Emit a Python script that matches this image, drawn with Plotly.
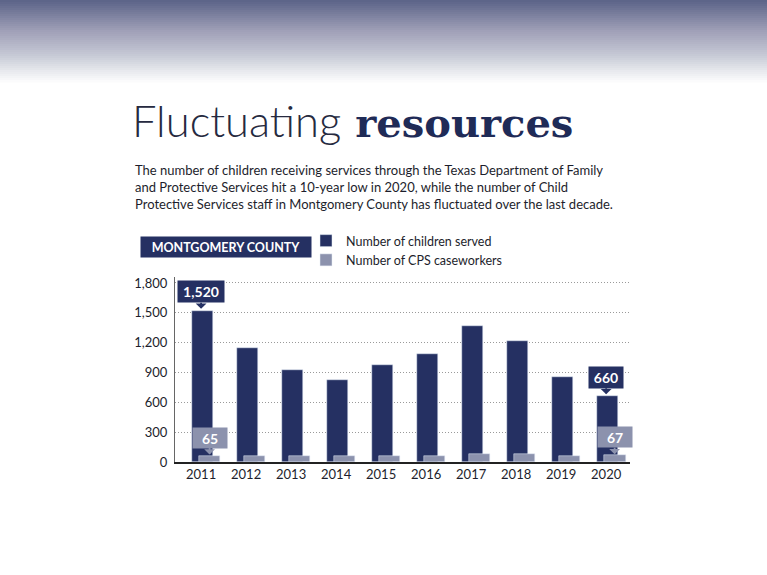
import plotly.graph_objects as go

# values
years = [2011, 2012, 2013, 2014, 2015, 2016, 2017, 2018, 2019, 2020]
children = [1520, 1150, 925, 820, 980, 1090, 1370, 1220, 850, 660]
caseworkers = [65, 60, 61, 59, 62, 60, 78, 80, 58, 67]
y_ticks = [0, 300, 600, 900, 1200, 1500, 1800]

navy = "#253062"
slate = "#8c92ad"
ink = "#1d1e2c"

W, H = 767, 575
L, R, T, B = 175, 137, 277, 113


def px(x):
    return (x - L) / (W - L - R)


def py(y):
    return (H - B - y) / (H - T - B)


fig = go.Figure()

fig.add_trace(go.Bar(x=years, y=children, name="Number of children served",
                     marker_color=navy, width=0.47, offset=-0.2))
fig.add_trace(go.Bar(x=years, y=caseworkers, name="Number of CPS caseworkers",
                     marker_color=slate, width=0.47, offset=-0.04))

# header gradient
stops = [(0, (93, 101, 137)), (30, (160, 160, 184)), (55, (200, 203, 215)),
         (70, (232, 233, 238)), (82, (255, 255, 255))]
shapes = []
for i in range(41):
    y0 = i * 2
    for (a, ca), (b, cb) in zip(stops, stops[1:]):
        if a <= y0 <= b:
            t = (y0 - a) / (b - a)
            c = tuple(int(ca[k] + (cb[k] - ca[k]) * t) for k in range(3))
            break
    shapes.append(dict(type="rect", xref="paper", yref="paper", layer="below",
                       x0=px(0), x1=px(W), y0=py(y0), y1=py(y0 + 2.5),
                       fillcolor="rgb(%d,%d,%d)" % c, line_width=0))

annotations = [
    dict(xref="paper", yref="paper", x=px(130), y=py(120), xanchor="left", yanchor="middle",
         showarrow=False,
         text="<span style='font-family:Lato;font-weight:300;font-size:43.5px;color:#262a40'>Fluctuating</span>"
              "<span style='font-family:DejaVu Serif;font-weight:bold;font-size:40px;color:#1f2b57'> resources</span>"),
    dict(xref="paper", yref="paper", x=px(133), y=py(160), xanchor="left", yanchor="top",
         showarrow=False, align="left",
         font=dict(family="Lato", size=13, color=ink),
         text="The number of children receiving services through the Texas Department of Family<br>"
              "and Protective Services hit a 10-year low in 2020, while the number of Child<br>"
              "Protective Services staff in Montgomery County has fluctuated over the last decade."),
    dict(xref="paper", yref="paper", x=px(226), y=py(247), xanchor="center", yanchor="middle",
         showarrow=False, bgcolor=navy, width=166, height=16, borderpad=2,
         font=dict(family="Lato", size=12.5, color="white", weight="bold"),
         text="MONTGOMERY COUNTY"),
]

for i in (0, -1):
    label = f"{children[i]:,}"
    annotations.append(dict(x=years[i], y=children[i], text=label,
                            showarrow=True, ax=0, ay=-19, arrowhead=1, arrowwidth=1.8,
                            arrowsize=1, arrowcolor=navy, standoff=2,
                            bgcolor=navy, borderpad=3, height=15,
                            width=40 if len(label) > 3 else 28,
                            font=dict(family="Lato", size=14, color="white", weight="bold")))
    annotations.append(dict(x=years[i], y=caseworkers[i], text=f"{caseworkers[i]:,}",
                            showarrow=True, ax=0, ay=-18, arrowhead=1, arrowwidth=1.8,
                            arrowsize=1, arrowcolor=slate, standoff=1, xshift=8.5,
                            bgcolor=slate, borderpad=3, height=14, width=28,
                            font=dict(family="Lato", size=14, color="white", weight="bold")))

fig.update_layout(
    width=W, height=H,
    margin=dict(l=L, r=R, t=T, b=B),
    paper_bgcolor="white", plot_bgcolor="white",
    barmode="overlay",
    font=dict(family="Lato", size=12.5, color=ink),
    shapes=shapes,
    annotations=annotations,
    legend=dict(x=px(306), y=py(226), xanchor="left", yanchor="top",
                bgcolor="rgba(0,0,0,0)", font=dict(size=12.5, color=ink),
                itemwidth=30, tracegroupgap=0),
    xaxis=dict(range=[2010.42, 2020.53], tickvals=years, ticks="",
               showline=True, linecolor="#222", linewidth=1.5,
               showgrid=False, zeroline=False, tickfont=dict(size=13)),
    yaxis=dict(range=[0, 1860], tickvals=y_ticks, tickformat=",", ticks="",
               showline=True, linecolor="#666", linewidth=1,
               showgrid=True, gridcolor="#9a9a9a", griddash="1px,2px", gridwidth=1,
               zeroline=False, tickfont=dict(size=13), ticklabelstandoff=4),
    bargap=0,
)

fig.write_html("out.html", config={"displayModeBar": False},
               post_script="document.body.style.margin='0';")
